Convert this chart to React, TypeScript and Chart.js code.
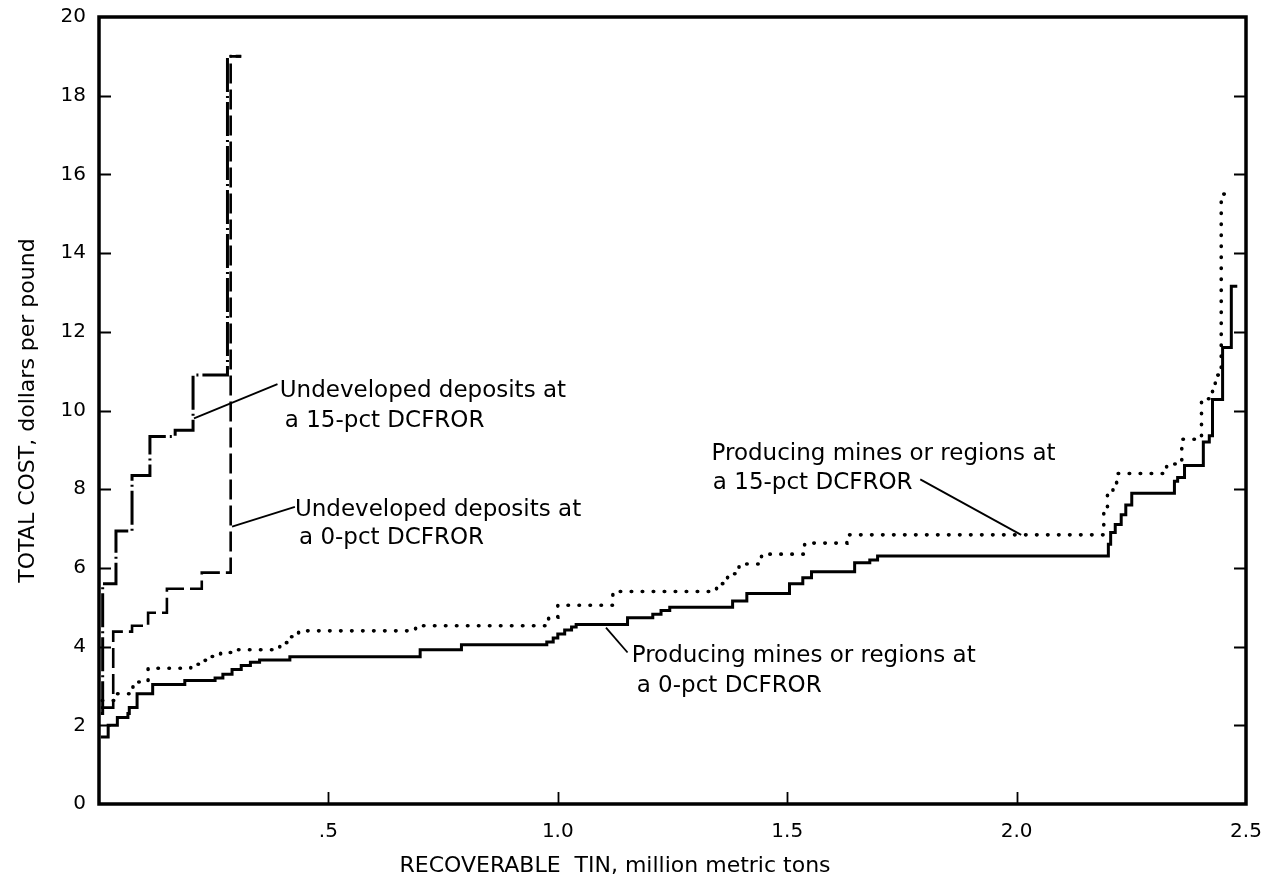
import React, { useEffect, useRef } from 'react';
import { Chart, registerables } from 'chart.js';

Chart.register(...registerables);

// Axis ticks and their printed labels
const X_TICKS = [0, 0.5, 1.0, 1.5, 2.0, 2.5];
const X_TICK_LABELS = ['', '.5', '1.0', '1.5', '2.0', '2.5'];
const Y_TICKS = [0, 2, 4, 6, 8, 10, 12, 14, 16, 18, 20];
const Y_TICK_LABELS = ['0', '2', '4', '6', '8', '10', '12', '14', '16', '18', '20'];

// Cumulative supply curves: each point starts a cost level (million t, $/lb)
// Producing mines or regions at a 0-pct DCFROR
const PROD0_X = [0.004, 0.02, 0.04, 0.063, 0.066, 0.083, 0.117, 0.187, 0.253, 0.27, 0.29, 0.31, 0.33, 0.35, 0.416, 0.70, 0.79, 0.976, 0.99, 1.0, 1.015, 1.03, 1.04, 1.152, 1.207, 1.225, 1.244, 1.381, 1.412, 1.505, 1.534, 1.553, 1.647, 1.68, 1.697, 2.2, 2.205, 2.215, 2.228, 2.238, 2.251, 2.344, 2.351, 2.366, 2.407, 2.42, 2.427, 2.449, 2.468, 2.481];
const PROD0_Y = [1.7, 2.0, 2.2, 2.3, 2.45, 2.8, 3.04, 3.14, 3.2, 3.3, 3.42, 3.52, 3.6, 3.66, 3.74, 3.92, 4.05, 4.12, 4.22, 4.32, 4.42, 4.5, 4.56, 4.73, 4.82, 4.92, 5.0, 5.16, 5.35, 5.6, 5.75, 5.9, 6.13, 6.2, 6.3, 6.6, 6.9, 7.1, 7.35, 7.6, 7.9, 8.2, 8.3, 8.6, 9.2, 9.36, 10.28, 11.6, 13.16, 13.16];

// Producing mines or regions at a 15-pct DCFROR
const PROD15_X = [0.007, 0.035, 0.074, 0.107, 0.2, 0.224, 0.245, 0.265, 0.296, 0.394, 0.415, 0.435, 0.69, 0.98, 1.0, 1.12, 1.346, 1.37, 1.395, 1.444, 1.538, 1.63, 2.19, 2.198, 2.21, 2.218, 2.327, 2.36, 2.403, 2.427, 2.433, 2.446, 2.464];
const PROD15_Y = [2.63, 2.8, 3.1, 3.45, 3.55, 3.65, 3.75, 3.85, 3.92, 4.1, 4.25, 4.4, 4.53, 4.75, 5.05, 5.4, 5.6, 5.85, 6.1, 6.35, 6.63, 6.84, 7.4, 7.85, 8.1, 8.4, 8.64, 9.27, 10.3, 10.6, 10.9, 15.5, 15.5];

// Undeveloped deposits at a 0-pct DCFROR
const UNDEV0_X = [0.004, 0.031, 0.072, 0.107, 0.148, 0.224, 0.287, 0.31];
const UNDEV0_Y = [2.45, 4.38, 4.53, 4.86, 5.47, 5.88, 19.0, 19.0];

// Undeveloped deposits at a 15-pct DCFROR
const UNDEV15_X = [0.004, 0.008, 0.037, 0.072, 0.111, 0.166, 0.205, 0.28, 0.31];
const UNDEV15_Y = [2.3, 5.6, 6.94, 8.35, 9.34, 9.5, 10.9, 19.0, 19.0];

const FONT = '"DejaVu Sans", "Liberation Sans", Arial, sans-serif';
const INK = '#000';

type Callout = {
  lines: { text: string; x: number; y: number }[];
  leader: [number, number, number, number];
};

// Callout labels, placed in data units; leader runs from the curve to the text
const CALLOUTS: Callout[] = [
  {
    lines: [
      { text: 'Undeveloped deposits at', x: 0.394, y: 10.34 },
      { text: 'a 15-pct DCFROR', x: 0.405, y: 9.58 },
    ],
    leader: [0.207, 9.8, 0.389, 10.67],
  },
  {
    lines: [
      { text: 'Undeveloped deposits at', x: 0.427, y: 7.32 },
      { text: 'a 0-pct DCFROR', x: 0.436, y: 6.6 },
    ],
    leader: [0.29, 7.05, 0.427, 7.55],
  },
  {
    lines: [
      { text: 'Producing mines or regions at', x: 1.335, y: 8.75 },
      { text: 'a 15-pct DCFROR', x: 1.338, y: 8.0 },
    ],
    leader: [1.79, 8.25, 2.01, 6.84],
  },
  {
    lines: [
      { text: 'Producing mines or regions at', x: 1.161, y: 3.6 },
      { text: 'a 0-pct DCFROR', x: 1.172, y: 2.84 },
    ],
    leader: [1.105, 4.48, 1.152, 3.85],
  },
];

const X_TITLE = 'RECOVERABLE  TIN, million metric tons';
const Y_TITLE = 'TOTAL COST, dollars per pound';

const toPoints = (xs: number[], ys: number[]) => xs.map((x, i) => ({ x, y: ys[i] }));

const framePlugin = {
  id: 'frameAndCallouts',
  afterDraw(chart: any) {
    const { ctx, chartArea, scales } = chart;
    const { left, right, top, bottom } = chartArea;
    const xs = scales.x;
    const ys = scales.y;
    ctx.save();
    ctx.strokeStyle = INK;
    ctx.fillStyle = INK;

    // plot frame
    ctx.lineWidth = 3.5;
    ctx.lineJoin = 'miter';
    ctx.strokeRect(left, top, right - left, bottom - top);

    // inward tick marks
    ctx.lineWidth = 1.8;
    ctx.beginPath();
    Y_TICKS.slice(1, -1).forEach((v) => {
      const py = Math.round(ys.getPixelForValue(v)) + 0.5;
      ctx.moveTo(left, py);
      ctx.lineTo(left + 12, py);
      ctx.moveTo(right, py);
      ctx.lineTo(right - 12, py);
    });
    X_TICKS.slice(1, -1).forEach((v) => {
      const px = Math.round(xs.getPixelForValue(v)) + 0.5;
      ctx.moveTo(px, bottom);
      ctx.lineTo(px, bottom - 12);
    });
    ctx.stroke();

    // callouts
    ctx.font = `23px ${FONT}`;
    ctx.textAlign = 'left';
    ctx.textBaseline = 'alphabetic';
    CALLOUTS.forEach((c) => {
      c.lines.forEach((l) => {
        ctx.fillText(l.text, xs.getPixelForValue(l.x), ys.getPixelForValue(l.y));
      });
      const [x1, y1, x2, y2] = c.leader;
      ctx.lineWidth = 1.8;
      ctx.beginPath();
      ctx.moveTo(xs.getPixelForValue(x1), ys.getPixelForValue(y1));
      ctx.lineTo(xs.getPixelForValue(x2), ys.getPixelForValue(y2));
      ctx.stroke();
    });

    // axis titles
    ctx.font = `22px ${FONT}`;
    ctx.textAlign = 'center';
    ctx.textBaseline = 'middle';
    ctx.fillText(X_TITLE, 615, 866);
    ctx.save();
    ctx.translate(28, (top + bottom) / 2);
    ctx.rotate(-Math.PI / 2);
    ctx.fillText(Y_TITLE, 0, 0);
    ctx.restore();

    ctx.restore();
  },
};

export default function App() {
  const canvasRef = useRef<HTMLCanvasElement | null>(null);

  useEffect(() => {
    const canvas = canvasRef.current;
    if (!canvas) return;
    const line = (data: { x: number; y: number }[], extra: any) => ({
      data,
      showLine: true,
      stepped: 'before',
      pointRadius: 0,
      pointHoverRadius: 0,
      borderColor: INK,
      backgroundColor: INK,
      fill: false,
      ...extra,
    });
    const chart = new Chart(canvas, {
      type: 'scatter',
      data: {
        datasets: [
          line(toPoints(PROD0_X, PROD0_Y), { borderWidth: 3 }),
          line(toPoints(PROD15_X, PROD15_Y), {
            borderWidth: 3.6,
            borderDash: [0.5, 10.5],
            borderCapStyle: 'round',
          }),
          line(toPoints(UNDEV0_X, UNDEV0_Y), { borderWidth: 2.6, borderDash: [20, 6] }),
          line(toPoints(UNDEV15_X, UNDEV15_Y), { borderWidth: 3, borderDash: [34, 4, 2, 4] }),
        ],
      } as any,
      options: {
        responsive: false,
        animation: false,
        devicePixelRatio: 1,
        events: [],
        layout: { padding: { top: 15, right: 24, left: 0, bottom: 0 } },
        plugins: { legend: { display: false }, tooltip: { enabled: false } },
        scales: {
          x: {
            type: 'linear',
            min: 0,
            max: 2.5,
            afterBuildTicks: (s: any) => {
              s.ticks = X_TICKS.map((value) => ({ value }));
            },
            afterFit: (s: any) => {
              s.height = 81;
            },
            grid: { display: false },
            border: { display: false },
            ticks: {
              autoSkip: false,
              maxRotation: 0,
              padding: 8,
              color: INK,
              font: { family: FONT, size: 20 },
              callback: (_v: any, i: number) => X_TICK_LABELS[i],
            },
          },
          y: {
            type: 'linear',
            min: 0,
            max: 20,
            afterBuildTicks: (s: any) => {
              s.ticks = Y_TICKS.map((value) => ({ value }));
            },
            afterFit: (s: any) => {
              s.width = 99;
            },
            grid: { display: false },
            border: { display: false },
            ticks: {
              autoSkip: false,
              padding: 5,
              color: INK,
              font: { family: FONT, size: 20 },
              callback: (_v: any, i: number) => Y_TICK_LABELS[i],
            },
          },
        },
      } as any,
      plugins: [framePlugin],
    });
    return () => chart.destroy();
  }, []);

  return (
    <div style={{ position: 'fixed', left: 0, top: 0, width: 1270, height: 885, background: '#fff' }}>
      <canvas ref={canvasRef} width={1270} height={885} style={{ display: 'block' }} />
    </div>
  );
}
